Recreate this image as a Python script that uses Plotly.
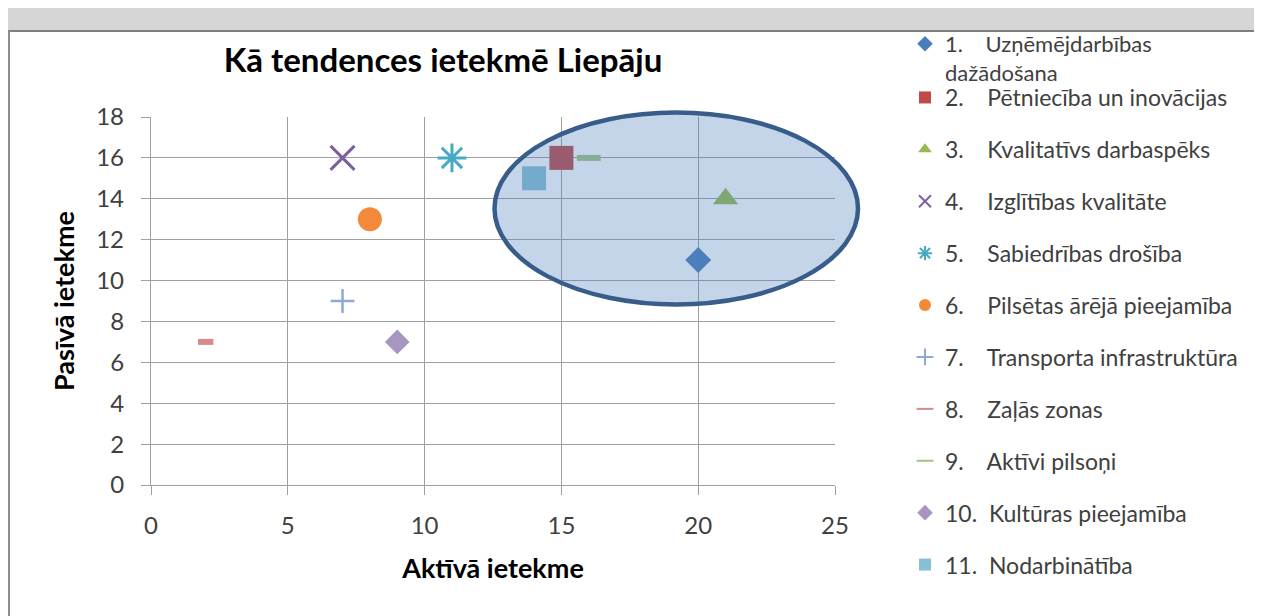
import plotly.graph_objects as go

# ---------------- data ----------------
NB = "\u00a0"
labels = [
    "1." + NB * 4 + "Uzņēmējdarbības<br>dažādošana",
    "2." + NB * 4 + "Pētniecība un inovācijas",
    "3." + NB * 4 + "Kvalitatīvs darbaspēks",
    "4." + NB * 4 + "Izglītības kvalitāte",
    "5." + NB * 4 + "Sabiedrības drošība",
    "6." + NB * 4 + "Pilsētas ārējā pieejamība",
    "7." + NB * 4 + "Transporta infrastruktūra",
    "8." + NB * 4 + "Zaļās zonas",
    "9." + NB * 4 + "Aktīvi pilsoņi",
    "10." + NB * 2 + "Kultūras pieejamība",
    "11." + NB * 2 + "Nodarbinātība",
]
active = [20, 15, 21, 7, 11, 8, 7, 2, 16, 9, 14]     # Aktīvā ietekme (x)
passive = [11, 16, 14, 16, 16, 13, 9, 7, 16, 7, 15]   # Pasīvā ietekme (y)

x_ticks = [0, 5, 10, 15, 20, 25]
y_ticks = [0, 2, 4, 6, 8, 10, 12, 14, 16, 18]

# ---------------- styles ----------------
symbols = ["diamond", "square", "triangle-up", "x-thin", "asterisk", "circle",
           "cross-thin", "line-ew", "line-ew", "diamond", "square"]
colors = ["#4A7EBB", "#BE4B48", "#98B954", "#7D5FA0", "#46AAC5", "#F38A3A",
          "#8EA9D8", "#D68A8A", "#A3C286", "#A797C0", "#86C0D6"]
sizes = [20, 24, 22, 24, 24, 24, 17, 11, 17, 19, 24]
open_widths = [0, 0, 0, 3, 3, 0, 2.5, 6, 6, 0, 0]

OFF = 8                      # page body margin (screen px)
W, H = 1262 - OFF, 616 - OFF
# plot area in screen pixels
SX0, SX1, SY0, SY1 = 151, 835, 117, 485
L, R, T, B = SX0 - OFF, W - (SX1 - OFF), SY0 - OFF, H - (SY1 - OFF)
PW, PH = W - L - R, H - T - B


def px2x(px):
    return (px - OFF - L) / PW


def px2y(py):
    return (H - B - (py - OFF)) / PH


fig = go.Figure()
for i in range(len(labels)):
    marker = dict(symbol=symbols[i], size=sizes[i], color=colors[i])
    if open_widths[i] > 0:
        marker["line"] = dict(color=colors[i], width=open_widths[i])
    else:
        marker["line"] = dict(width=0)
    fig.add_trace(go.Scatter(
        x=[active[i]], y=[passive[i]], mode="markers", name=labels[i],
        marker=marker, legendgroup=str(i),
        legend="legend" if i == 0 else "legend2",
        cliponaxis=False,
    ))

grid = "#A0A0A0"
font = "Lato"

fig.update_layout(
    width=W, height=H,
    margin=dict(l=L, r=R, t=T, b=B, autoexpand=False),
    paper_bgcolor="white", plot_bgcolor="white",
    font=dict(family=font, color="#404040"),
    title=dict(text="<b>Kā tendences ietekmē Liepāju</b>", x=px2x(443), xref="paper",
               xanchor="center", y=1 - (60 - OFF) / H, yref="container", yanchor="middle",
               font=dict(size=33, color="black", family=font)),
    xaxis=dict(range=[0, 25], tickvals=x_ticks, showgrid=True, gridcolor=grid, gridwidth=1.3,
               zeroline=False, showline=True, linecolor=grid, linewidth=1.3,
               ticks="outside", ticklen=9, tickcolor=grid, tickwidth=1.3,
               tickfont=dict(size=24, color="#404040"), ticklabelstandoff=10,
               title=dict(text="<b>Aktīvā ietekme</b>", font=dict(size=27, color="black"), standoff=21)),
    yaxis=dict(range=[0, 18], tickvals=y_ticks, showgrid=True, gridcolor=grid, gridwidth=1.3,
               zeroline=False, showline=True, linecolor=grid, linewidth=1.3,
               ticks="outside", ticklen=9, tickcolor=grid, tickwidth=1.3,
               tickfont=dict(size=24, color="#404040"), ticklabelstandoff=12,
               title=dict(text="<b>Pasīvā ietekme</b>", font=dict(size=27, color="black"), standoff=13)),
    legend=dict(x=px2x(905), y=px2y(23), xanchor="left", yanchor="top", itemsizing="constant",
                valign="top", font=dict(size=22, color="#404040"), bgcolor="rgba(0,0,0,0)",
                tracegroupgap=0),
    legend2=dict(x=px2x(905), y=px2y(76), xanchor="left", yanchor="top", itemsizing="constant",
                 font=dict(size=23, color="#404040"), bgcolor="rgba(0,0,0,0)",
                 tracegroupgap=19, maxheight=600),
    showlegend=True,
)

# highlight ellipse (drawn above markers, semi-transparent)
fig.add_shape(type="circle", xref="paper", yref="paper",
              x0=px2x(494.5), x1=px2x(858), y0=px2y(304.5), y1=px2y(112.5),
              fillcolor="rgba(79,129,189,0.33)", line=dict(color="#385D8A", width=4.5),
              layer="above")

# window frame (top band of the screenshot)
fig.add_shape(type="rect", xref="paper", yref="paper",
              x0=px2x(OFF), x1=px2x(1262), y0=px2y(30), y1=px2y(OFF),
              fillcolor="#D6D6D6", line=dict(width=0), layer="above")
fig.add_shape(type="line", xref="paper", yref="paper",
              x0=px2x(OFF), x1=px2x(1262), y0=px2y(31), y1=px2y(31),
              line=dict(color="#7F7F7F", width=2), layer="above")
fig.add_shape(type="line", xref="paper", yref="paper",
              x0=px2x(OFF + 1), x1=px2x(OFF + 1), y0=px2y(616), y1=px2y(31),
              line=dict(color="#8C8C8C", width=2), layer="above")

fig.write_html("out.html")
